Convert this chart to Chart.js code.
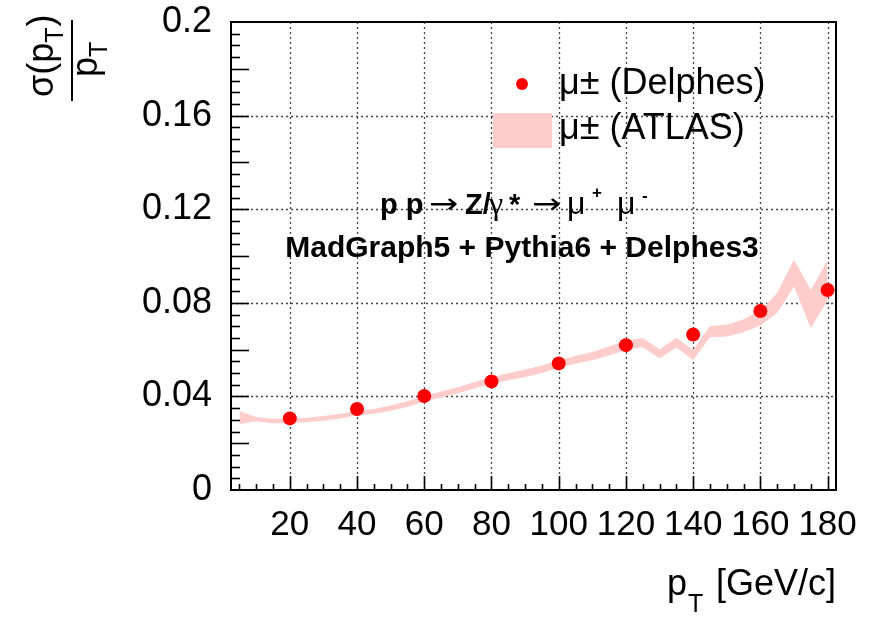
<!DOCTYPE html>
<html><head><meta charset="utf-8">
<script src="https://cdn.jsdelivr.net/npm/chart.js@4/dist/chart.umd.min.js"></script>
<style>html,body{margin:0;padding:0;background:#fff}canvas{display:block}</style>
</head><body>
<canvas id="c" width="876" height="617"></canvas>
<script>
// ---- data ----
const ptValues   = [20, 40, 60, 80, 100, 120, 140, 160, 180];
const delphesRes = [0.0306, 0.0346, 0.0402, 0.0464, 0.0541, 0.0619, 0.0664, 0.0765, 0.0855];

const atlasPt    = [5, 10, 15, 20, 25, 30, 35, 40, 45, 50, 55, 60, 65, 70, 75, 80, 85, 90,
                    95, 100, 105, 110, 115, 120, 125, 130, 135, 140, 145, 150, 155, 160, 165, 170, 175, 180];
const atlasUpper = [0.0338, 0.0312, 0.0305, 0.0306, 0.0309, 0.0316, 0.0326, 0.0338, 0.0346, 0.0361, 0.0379, 0.0402,
                    0.0421, 0.0439, 0.0462, 0.0482, 0.0499, 0.0515, 0.0532, 0.0554, 0.0573, 0.0590, 0.0613, 0.0638,
                    0.0650, 0.0602, 0.0651, 0.0598, 0.0701, 0.0706, 0.0730, 0.0767, 0.0842, 0.0984, 0.0855, 0.0982];
const atlasLower = [0.0282, 0.0294, 0.0285, 0.0286, 0.0289, 0.0296, 0.0306, 0.0318, 0.0326, 0.0339, 0.0355, 0.0378,
                    0.0395, 0.0413, 0.0434, 0.0454, 0.0469, 0.0483, 0.0500, 0.0522, 0.0539, 0.0554, 0.0575, 0.0598,
                    0.0610, 0.0562, 0.0609, 0.0556, 0.0653, 0.0656, 0.0674, 0.0703, 0.0756, 0.0870, 0.0691, 0.0812];

const xTickValues = [20, 40, 60, 80, 100, 120, 140, 160, 180];
const yTickValues = [0, 0.04, 0.08, 0.12, 0.16, 0.2];
const yTickLabels = ['0', '0.04', '0.08', '0.12', '0.16', '0.2'];

const legendLabels = ['\u03bc\u00b1 (Delphes)', '\u03bc\u00b1 (ATLAS)'];

// ---- styles ----
const SANS = '"Liberation Sans", Arial, Helvetica, sans-serif';
const SERIF = '"Liberation Serif", "Times New Roman", serif';
const RED = '#ff0000';
const PINK = '#ffcccc';

function wideArrow(ctx, x, y) {
  ctx.save();
  ctx.translate(x, y);
  ctx.scale(1.25, 1);
  ctx.font = '28px "DejaVu Sans", ' + SANS;
  ctx.fillText('\u2192', 0, 0);
  ctx.restore();
}

const rootFrame = {
  id: 'rootFrame',
  beforeDatasetsDraw(chart) {
    const {ctx, chartArea: a, scales: {x, y}} = chart;
    ctx.save();
    ctx.strokeStyle = '#444';
    ctx.lineWidth = 1.3;
    ctx.setLineDash([2, 3]);
    xTickValues.forEach(v => {
      const px = Math.round(x.getPixelForValue(v)) + 0.5;
      ctx.beginPath(); ctx.moveTo(px, a.top); ctx.lineTo(px, a.bottom); ctx.stroke();
    });
    yTickValues.forEach(v => {
      if (v <= y.min || v >= y.max) return;
      const py = Math.round(y.getPixelForValue(v)) + 0.5;
      ctx.beginPath(); ctx.moveTo(a.left, py); ctx.lineTo(a.right, py); ctx.stroke();
    });
    ctx.restore();
  },
  afterDatasetsDraw(chart) {
    const {ctx, chartArea: a, scales: {x, y}} = chart;
    ctx.save();
    ctx.strokeStyle = '#000';
    ctx.lineWidth = 1.6;
    for (let k = 1; k * 5 <= x.max; k++) {
      const v = k * 5;
      const px = Math.round(x.getPixelForValue(v)) + 0.5;
      const len = xTickValues.includes(v) ? 14 : 6;
      ctx.beginPath(); ctx.moveTo(px, a.bottom); ctx.lineTo(px, a.bottom - len); ctx.stroke();
    }
    for (let k = 1; k < 40; k++) {
      const v = k * 0.005;
      const py = Math.round(y.getPixelForValue(v)) + 0.5;
      const len = (k % 4 === 0) ? 18 : 9;
      ctx.beginPath(); ctx.moveTo(a.left, py); ctx.lineTo(a.left + len, py); ctx.stroke();
    }
    ctx.lineWidth = 2;
    ctx.strokeRect(a.left, a.top, a.right - a.left, a.bottom - a.top);
    ctx.restore();
  },
  afterDraw(chart) {
    const {ctx} = chart;
    ctx.save();
    ctx.fillStyle = '#000';
    ctx.textBaseline = 'alphabetic';
    ctx.textAlign = 'left';

    // legend
    ctx.beginPath(); ctx.arc(522, 84, 6, 0, Math.PI * 2); ctx.fillStyle = RED; ctx.fill();
    ctx.fillStyle = PINK; ctx.fillRect(493, 113, 59, 35);
    ctx.fillStyle = '#000';
    ctx.font = '36px ' + SANS;
    ctx.fillText(legendLabels[0], 559, 94);
    ctx.fillText(legendLabels[1], 559, 139);

    // annotation line 1: p p -> Z/gamma* -> mu+ mu-
    const b1 = 214;
    ctx.font = 'bold 29px ' + SANS; ctx.fillText('p p', 380, b1);
    wideArrow(ctx, 429, b1 - 1);
    ctx.font = 'bold 29px ' + SANS; ctx.fillText('Z/', 465, b1);
    ctx.font = '32px ' + SERIF; ctx.fillText('\u03b3', 489, b1);
    ctx.font = 'bold 29px ' + SANS; ctx.fillText('*', 509, b1);
    wideArrow(ctx, 532, b1 - 1);
    ctx.font = '32px ' + SANS; ctx.fillText('\u03bc', 567, b1);
    ctx.font = 'bold 17px ' + SANS; ctx.fillText('+', 592, b1 - 16);
    ctx.font = '32px ' + SANS; ctx.fillText('\u03bc', 617, b1);
    ctx.font = 'bold 17px ' + SANS; ctx.fillText('-', 642, b1 - 13);

    // annotation line 2
    ctx.font = 'bold 30px ' + SANS;
    ctx.textAlign = 'center';
    ctx.fillText('MadGraph5 + Pythia6 + Delphes3', 522, 257);

    // x-axis title
    ctx.textAlign = 'left';
    ctx.font = '36px ' + SANS; ctx.fillText('p', 667, 595);
    ctx.font = '25px ' + SANS; ctx.fillText('T', 688, 612);
    ctx.font = '36px ' + SANS; ctx.fillText('[GeV/c]', 716, 595);

    // y-axis title (rotated fraction)
    ctx.save();
    ctx.translate(53, 0);
    ctx.rotate(-Math.PI / 2);
    ctx.font = '36px ' + SANS;
    let s = -97;
    ctx.fillText('\u03c3(p', s, 0);
    s += ctx.measureText('\u03c3(p').width;
    ctx.font = '25px ' + SANS; ctx.fillText('T', s, 10);
    s += ctx.measureText('T').width + 1;
    ctx.font = '36px ' + SANS; ctx.fillText(')', s, 0);
    ctx.restore();
    ctx.fillRect(71, 20, 2, 81);
    ctx.save();
    ctx.translate(97, 0);
    ctx.rotate(-Math.PI / 2);
    ctx.font = '36px ' + SANS; ctx.fillText('p', -77, 0);
    ctx.font = '25px ' + SANS; ctx.fillText('T', -77 + 20, 10);
    ctx.restore();

    ctx.restore();
  }
};

new Chart(document.getElementById('c'), {
  type: 'line',
  data: {
    datasets: [
      {
        label: 'Delphes',
        data: ptValues.map((v, i) => ({x: v, y: delphesRes[i]})),
        showLine: false,
        pointRadius: 7,
        pointBackgroundColor: RED,
        pointBorderWidth: 0,
        borderColor: RED
      },
      {
        label: 'ATLAS upper',
        data: atlasPt.map((v, i) => ({x: v, y: atlasUpper[i]})),
        borderWidth: 0,
        borderColor: PINK,
        pointRadius: 0,
        tension: 0,
        fill: '+1',
        backgroundColor: PINK
      },
      {
        label: 'ATLAS lower',
        data: atlasPt.map((v, i) => ({x: v, y: atlasLower[i]})),
        borderWidth: 0,
        borderColor: PINK,
        pointRadius: 0,
        tension: 0,
        fill: false
      }
    ]
  },
  options: {
    responsive: false,
    animation: false,
    devicePixelRatio: 1,
    layout: {padding: {left: 0, right: 40, top: 22, bottom: 0}},
    plugins: {legend: {display: false}, tooltip: {enabled: false}, filler: {propagate: false}},
    scales: {
      x: {
        type: 'linear', min: 2.5, max: 182.5,
        afterBuildTicks: s => { s.ticks = xTickValues.map(v => ({value: v})); },
        afterFit: s => { s.height = 127; s.paddingLeft = 0; s.paddingRight = 0; },
        grid: {display: false, drawTicks: false},
        border: {display: false},
        ticks: {font: {family: SANS, size: 35}, color: '#000', padding: 14, maxRotation: 0, autoSkip: false,
                callback: v => String(v)}
      },
      y: {
        type: 'linear', min: 0, max: 0.2,
        afterBuildTicks: s => { s.ticks = yTickValues.map(v => ({value: v})); },
        afterFit: s => { s.width = 231; s.paddingTop = 0; s.paddingBottom = 0; },
        grid: {display: false, drawTicks: false},
        border: {display: false},
        ticks: {font: {family: SANS, size: 36}, color: '#000', padding: 19, autoSkip: false,
                callback: v => yTickLabels[yTickValues.indexOf(v)]}
      }
    }
  },
  plugins: [rootFrame]
});
</script>
</body></html>
